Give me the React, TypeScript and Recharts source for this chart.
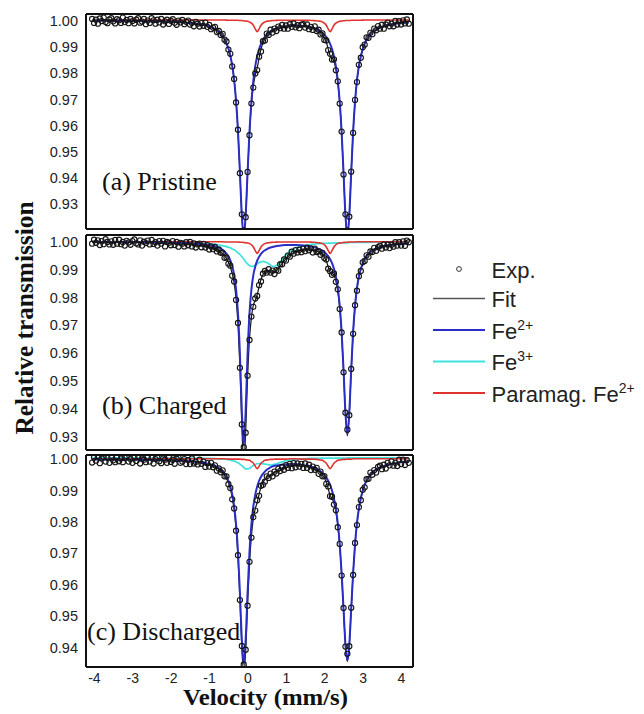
import React from 'react';
import { ComposedChart, Line, Scatter, XAxis, YAxis } from 'recharts';

// ---------- velocity channels of the measured spectra (mm/s) ----------
const VEL = [
  -4.06, -4.01, -3.96, -3.91, -3.86, -3.81, -3.76, -3.71, -3.66, -3.61,
  -3.56, -3.51, -3.46, -3.41, -3.36, -3.31, -3.26, -3.21, -3.16, -3.11,
  -3.06, -3.01, -2.96, -2.91, -2.86, -2.81, -2.76, -2.71, -2.66, -2.61,
  -2.56, -2.51, -2.46, -2.41, -2.36, -2.31, -2.26, -2.21, -2.16, -2.11,
  -2.06, -2.01, -1.96, -1.91, -1.86, -1.81, -1.76, -1.71, -1.66, -1.61,
  -1.56, -1.51, -1.46, -1.41, -1.36, -1.31, -1.26, -1.21, -1.16, -1.11,
  -1.06, -1.01, -0.96, -0.91, -0.86, -0.81, -0.76, -0.71, -0.66, -0.61,
  -0.56, -0.51, -0.46, -0.41, -0.36, -0.31, -0.26, -0.21, -0.16, -0.11,
  -0.06, -0.01, 0.04, 0.09, 0.14, 0.19, 0.24, 0.29, 0.34, 0.39,
  0.44, 0.49, 0.54, 0.59, 0.64, 0.69, 0.74, 0.79, 0.84, 0.89,
  0.94, 0.99, 1.04, 1.09, 1.14, 1.19, 1.24, 1.29, 1.34, 1.39,
  1.44, 1.49, 1.54, 1.59, 1.64, 1.69, 1.74, 1.79, 1.84, 1.89,
  1.94, 1.99, 2.04, 2.09, 2.14, 2.19, 2.24, 2.29, 2.34, 2.39,
  2.44, 2.49, 2.54, 2.59, 2.64, 2.69, 2.74, 2.79, 2.84, 2.89,
  2.94, 2.99, 3.04, 3.09, 3.14, 3.19, 3.24, 3.29, 3.34, 3.39,
  3.44, 3.49, 3.54, 3.59, 3.64, 3.69, 3.74, 3.79, 3.84, 3.89,
  3.94, 3.99, 4.04, 4.09, 4.14, 4.19,
];

// ---------- experimental points ----------
const EXP_A = [
  1.0007, 0.9992, 1.0004, 0.9989, 1.0009, 0.9999, 1.0012, 0.9995, 0.9991, 1.0005,
  1.0010, 0.9998, 0.9990, 1.0006, 1.0002, 0.9992, 1.0012, 0.9995, 1.0003, 0.9991,
  1.0007, 0.9999, 0.9990, 1.0004, 1.0010, 0.9993, 0.9997, 1.0007, 0.9987, 1.0001,
  0.9992, 1.0010, 1.0002, 0.9989, 1.0004, 0.9994, 1.0007, 0.9986, 0.9998, 1.0004,
  0.9988, 1.0000, 1.0006, 0.9993, 0.9985, 1.0001, 0.9994, 1.0003, 0.9987, 0.9996,
  1.0001, 0.9986, 0.9993, 0.9979, 0.9996, 0.9989, 0.9978, 0.9991, 0.9981, 0.9993,
  0.9977, 0.9984, 0.9968, 0.9974, 0.9977, 0.9957, 0.9961, 0.9946, 0.9950, 0.9928,
  0.9921, 0.9890, 0.9874, 0.9826, 0.9778, 0.9688, 0.9584, 0.9418, 0.9261, 0.9200,
  0.9250, 0.9423, 0.9563, 0.9684, 0.9745, 0.9799, 0.9812, 0.9863, 0.9883, 0.9922,
  0.9925, 0.9951, 0.9946, 0.9966, 0.9955, 0.9970, 0.9961, 0.9978, 0.9972, 0.9984,
  0.9970, 0.9982, 0.9970, 0.9987, 0.9977, 0.9990, 0.9975, 0.9983, 0.9972, 0.9985,
  0.9987, 0.9974, 0.9986, 0.9968, 0.9977, 0.9965, 0.9979, 0.9961, 0.9966, 0.9948,
  0.9952, 0.9927, 0.9925, 0.9888, 0.9874, 0.9852, 0.9853, 0.9811, 0.9769, 0.9684,
  0.9577, 0.9413, 0.9261, 0.9200, 0.9252, 0.9424, 0.9572, 0.9698, 0.9766, 0.9832,
  0.9859, 0.9899, 0.9909, 0.9937, 0.9935, 0.9954, 0.9949, 0.9970, 0.9964, 0.9980,
  0.9970, 0.9985, 0.9970, 0.9986, 0.9993, 0.9979, 0.9989, 0.9979, 1.0000, 0.9986,
  0.9999, 0.9986, 1.0002, 0.9990, 1.0005, 0.9989,
];

const EXP_B = [
  0.9993, 1.0007, 0.9996, 1.0005, 0.9988, 1.0002, 0.9991, 1.0009, 0.9999, 0.9990,
  1.0001, 0.9989, 1.0006, 0.9993, 1.0007, 0.9991, 0.9999, 0.9986, 1.0003, 0.9997,
  0.9989, 1.0002, 1.0008, 0.9994, 0.9990, 1.0005, 0.9986, 1.0000, 0.9995, 1.0004,
  0.9990, 1.0006, 0.9992, 0.9998, 0.9986, 1.0002, 0.9993, 1.0003, 0.9983, 0.9999,
  0.9996, 0.9987, 1.0002, 0.9988, 0.9999, 0.9982, 0.9996, 0.9993, 0.9983, 0.9998,
  0.9987, 0.9999, 0.9983, 0.9994, 0.9979, 0.9990, 0.9993, 0.9980, 0.9992, 0.9979,
  0.9988, 0.9972, 0.9983, 0.9973, 0.9981, 0.9965, 0.9972, 0.9960, 0.9960, 0.9942,
  0.9944, 0.9921, 0.9914, 0.9878, 0.9857, 0.9791, 0.9708, 0.9547, 0.9344, 0.9262,
  0.9314, 0.9519, 0.9647, 0.9731, 0.9766, 0.9796, 0.9805, 0.9844, 0.9857, 0.9885,
  0.9895, 0.9889, 0.9901, 0.9889, 0.9896, 0.9884, 0.9898, 0.9896, 0.9919, 0.9919,
  0.9936, 0.9932, 0.9950, 0.9946, 0.9964, 0.9957, 0.9970, 0.9961, 0.9971, 0.9962,
  0.9975, 0.9966, 0.9979, 0.9969, 0.9976, 0.9961, 0.9975, 0.9963, 0.9966, 0.9953,
  0.9960, 0.9941, 0.9936, 0.9903, 0.9894, 0.9881, 0.9886, 0.9856, 0.9829, 0.9758,
  0.9674, 0.9531, 0.9386, 0.9325, 0.9377, 0.9543, 0.9669, 0.9772, 0.9824, 0.9876,
  0.9895, 0.9926, 0.9931, 0.9951, 0.9946, 0.9965, 0.9963, 0.9978, 0.9967, 0.9980,
  0.9985, 0.9975, 0.9990, 0.9979, 0.9990, 0.9977, 0.9989, 0.9982, 0.9998, 0.9986,
  0.9998, 0.9986, 1.0001, 0.9985, 1.0004, 0.9998,
];

const EXP_C = [
  0.9989, 1.0005, 0.9995, 1.0008, 0.9987, 1.0002, 1.0007, 0.9992, 1.0004, 0.9988,
  1.0006, 0.9996, 0.9990, 1.0008, 0.9993, 1.0002, 0.9990, 1.0004, 1.0009, 0.9992,
  1.0000, 0.9988, 1.0006, 0.9994, 1.0007, 0.9986, 1.0002, 0.9998, 0.9990, 1.0007,
  0.9992, 1.0004, 0.9986, 1.0000, 1.0004, 0.9993, 0.9987, 1.0002, 0.9998, 0.9988,
  1.0005, 0.9991, 0.9998, 0.9985, 1.0001, 1.0005, 0.9988, 0.9992, 1.0000, 0.9984,
  0.9997, 0.9984, 1.0002, 0.9986, 0.9991, 0.9983, 0.9998, 0.9985, 0.9992, 0.9975,
  0.9987, 0.9976, 0.9988, 0.9974, 0.9980, 0.9963, 0.9970, 0.9958, 0.9964, 0.9945,
  0.9945, 0.9920, 0.9908, 0.9872, 0.9843, 0.9772, 0.9694, 0.9551, 0.9405, 0.9346,
  0.9393, 0.9533, 0.9673, 0.9750, 0.9815, 0.9836, 0.9869, 0.9883, 0.9915, 0.9918,
  0.9928, 0.9945, 0.9940, 0.9954, 0.9945, 0.9960, 0.9954, 0.9969, 0.9962, 0.9975,
  0.9966, 0.9981, 0.9972, 0.9985, 0.9971, 0.9987, 0.9974, 0.9986, 0.9976, 0.9985,
  0.9972, 0.9986, 0.9972, 0.9982, 0.9965, 0.9976, 0.9966, 0.9972, 0.9953, 0.9960,
  0.9945, 0.9946, 0.9921, 0.9913, 0.9882, 0.9880, 0.9855, 0.9837, 0.9783, 0.9730,
  0.9629, 0.9526, 0.9403, 0.9380, 0.9404, 0.9527, 0.9631, 0.9733, 0.9790, 0.9847,
  0.9869, 0.9902, 0.9910, 0.9936, 0.9937, 0.9957, 0.9950, 0.9965, 0.9957, 0.9975,
  0.9979, 0.9968, 0.9982, 0.9970, 0.9988, 0.9980, 0.9993, 0.9979, 0.9988, 0.9978,
  0.9998, 0.9984, 0.9998, 0.9981, 0.9997, 0.9988,
];

// ---------- fitted curves, sampled along LINE_X ----------
const LINE_X = [
  -4.06, -3.0, -2.2, -1.6, -1.31, -1.11, -0.96, -0.81, -0.71, -0.61,
  -0.51, -0.46, -0.41, -0.36, -0.31, -0.26, -0.21, -0.16, -0.11, -0.06,
  -0.01, 0.04, 0.09, 0.14, 0.19, 0.24, 0.29, 0.34, 0.39, 0.44,
  0.49, 0.54, 0.59, 0.64, 0.69, 0.79, 0.89, 0.99, 1.09, 1.24,
  1.39, 1.49, 1.59, 1.69, 1.79, 1.84, 1.89, 1.94, 1.99, 2.04,
  2.09, 2.14, 2.19, 2.24, 2.29, 2.34, 2.39, 2.44, 2.49, 2.54,
  2.59, 2.64, 2.69, 2.74, 2.79, 2.84, 2.89, 2.94, 3.04, 3.14,
  3.29, 3.49, 3.79, 4.19,
];

const FIT_A = [
  1.0001, 1.0000, 0.9998, 0.9993, 0.9988, 0.9983, 0.9976, 0.9964, 0.9951, 0.9930,
  0.9894, 0.9866, 0.9828, 0.9773, 0.9693, 0.9578, 0.9420, 0.9256, 0.9177, 0.9253,
  0.9416, 0.9569, 0.9680, 0.9752, 0.9793, 0.9820, 0.9858, 0.9892, 0.9915, 0.9931,
  0.9942, 0.9950, 0.9957, 0.9962, 0.9966, 0.9972, 0.9976, 0.9978, 0.9980, 0.9981,
  0.9980, 0.9978, 0.9975, 0.9971, 0.9965, 0.9960, 0.9955, 0.9946, 0.9935, 0.9919,
  0.9893, 0.9867, 0.9858, 0.9845, 0.9815, 0.9764, 0.9690, 0.9573, 0.9418, 0.9255,
  0.9178, 0.9256, 0.9421, 0.9576, 0.9691, 0.9772, 0.9826, 0.9864, 0.9912, 0.9940,
  0.9962, 0.9976, 0.9987, 0.9993,
];
const FE2_A = [
  1.0001, 1.0000, 0.9998, 0.9993, 0.9988, 0.9983, 0.9976, 0.9964, 0.9951, 0.9930,
  0.9895, 0.9867, 0.9829, 0.9774, 0.9694, 0.9579, 0.9422, 0.9258, 0.9180, 0.9257,
  0.9421, 0.9577, 0.9692, 0.9772, 0.9827, 0.9865, 0.9892, 0.9912, 0.9927, 0.9939,
  0.9947, 0.9954, 0.9960, 0.9964, 0.9968, 0.9973, 0.9977, 0.9979, 0.9981, 0.9982,
  0.9981, 0.9979, 0.9977, 0.9973, 0.9968, 0.9964, 0.9960, 0.9954, 0.9947, 0.9939,
  0.9927, 0.9912, 0.9892, 0.9865, 0.9827, 0.9772, 0.9692, 0.9577, 0.9421, 0.9257,
  0.9180, 0.9257, 0.9421, 0.9577, 0.9692, 0.9772, 0.9827, 0.9865, 0.9913, 0.9941,
  0.9963, 0.9977, 0.9988, 0.9994,
];
const PARA_A = [
  1.0003, 1.0003, 1.0003, 1.0003, 1.0003, 1.0003, 1.0003, 1.0003, 1.0003, 1.0003,
  1.0002, 1.0002, 1.0002, 1.0002, 1.0002, 1.0002, 1.0001, 1.0001, 1.0000, 0.9999,
  0.9998, 0.9995, 0.9991, 0.9983, 0.9969, 0.9958, 0.9969, 0.9983, 0.9991, 0.9995,
  0.9998, 0.9999, 1.0000, 1.0001, 1.0001, 1.0002, 1.0002, 1.0002, 1.0002, 1.0002,
  1.0002, 1.0002, 1.0002, 1.0001, 1.0000, 0.9999, 0.9998, 0.9995, 0.9991, 0.9983,
  0.9969, 0.9958, 0.9969, 0.9983, 0.9991, 0.9995, 0.9998, 0.9999, 1.0000, 1.0001,
  1.0001, 1.0001, 1.0002, 1.0002, 1.0002, 1.0002, 1.0002, 1.0002, 1.0003, 1.0003,
  1.0003, 1.0003, 1.0003, 1.0003,
];

const FIT_B = [
  0.9998, 0.9997, 0.9995, 0.9991, 0.9988, 0.9983, 0.9979, 0.9971, 0.9962, 0.9949,
  0.9927, 0.9910, 0.9885, 0.9851, 0.9794, 0.9703, 0.9551, 0.9338, 0.9202, 0.9318,
  0.9513, 0.9652, 0.9728, 0.9772, 0.9789, 0.9809, 0.9839, 0.9864, 0.9881, 0.9889,
  0.9894, 0.9894, 0.9893, 0.9891, 0.9892, 0.9902, 0.9922, 0.9939, 0.9952, 0.9964,
  0.9970, 0.9972, 0.9972, 0.9970, 0.9967, 0.9963, 0.9960, 0.9954, 0.9945, 0.9931,
  0.9910, 0.9890, 0.9886, 0.9880, 0.9859, 0.9822, 0.9763, 0.9670, 0.9537, 0.9381,
  0.9303, 0.9382, 0.9537, 0.9673, 0.9767, 0.9830, 0.9872, 0.9900, 0.9935, 0.9954,
  0.9970, 0.9980, 0.9988, 0.9992,
];
const FE2_B = [
  0.9999, 0.9999, 0.9997, 0.9995, 0.9993, 0.9990, 0.9987, 0.9981, 0.9975, 0.9965,
  0.9947, 0.9933, 0.9912, 0.9881, 0.9829, 0.9744, 0.9599, 0.9394, 0.9268, 0.9393,
  0.9598, 0.9743, 0.9828, 0.9880, 0.9911, 0.9932, 0.9946, 0.9956, 0.9964, 0.9969,
  0.9973, 0.9977, 0.9979, 0.9981, 0.9983, 0.9985, 0.9987, 0.9988, 0.9988, 0.9988,
  0.9987, 0.9985, 0.9984, 0.9981, 0.9977, 0.9974, 0.9971, 0.9967, 0.9962, 0.9956,
  0.9948, 0.9937, 0.9923, 0.9903, 0.9875, 0.9834, 0.9771, 0.9677, 0.9541, 0.9386,
  0.9308, 0.9386, 0.9541, 0.9677, 0.9771, 0.9834, 0.9875, 0.9903, 0.9938, 0.9957,
  0.9972, 0.9983, 0.9990, 0.9994,
];
const FE3_B = [
  0.9999, 0.9999, 0.9998, 0.9996, 0.9995, 0.9993, 0.9992, 0.9990, 0.9987, 0.9984,
  0.9980, 0.9978, 0.9974, 0.9971, 0.9966, 0.9960, 0.9954, 0.9946, 0.9938, 0.9928,
  0.9920, 0.9914, 0.9911, 0.9912, 0.9915, 0.9920, 0.9925, 0.9927, 0.9929, 0.9927,
  0.9925, 0.9921, 0.9916, 0.9912, 0.9911, 0.9919, 0.9936, 0.9953, 0.9965, 0.9977,
  0.9984, 0.9987, 0.9989, 0.9991, 0.9992, 0.9993, 0.9993, 0.9994, 0.9994, 0.9994,
  0.9995, 0.9995, 0.9995, 0.9995, 0.9996, 0.9996, 0.9996, 0.9996, 0.9996, 0.9996,
  0.9996, 0.9997, 0.9997, 0.9997, 0.9997, 0.9997, 0.9997, 0.9997, 0.9997, 0.9997,
  0.9998, 0.9998, 0.9998, 0.9999,
];
const PARA_B = [
  1.0000, 1.0000, 1.0000, 1.0000, 1.0000, 1.0000, 1.0000, 1.0000, 1.0000, 0.9999,
  0.9999, 0.9999, 0.9999, 0.9999, 0.9999, 0.9999, 0.9998, 0.9998, 0.9997, 0.9996,
  0.9995, 0.9993, 0.9989, 0.9981, 0.9968, 0.9958, 0.9968, 0.9981, 0.9989, 0.9993,
  0.9995, 0.9996, 0.9997, 0.9998, 0.9998, 0.9999, 0.9999, 0.9999, 0.9999, 0.9999,
  0.9999, 0.9999, 0.9999, 0.9998, 0.9997, 0.9996, 0.9995, 0.9993, 0.9989, 0.9981,
  0.9968, 0.9958, 0.9968, 0.9981, 0.9989, 0.9993, 0.9995, 0.9996, 0.9997, 0.9998,
  0.9998, 0.9999, 0.9999, 0.9999, 0.9999, 1.0000, 1.0000, 1.0000, 1.0000, 1.0000,
  1.0000, 1.0000, 1.0000, 1.0000,
];

const FIT_C = [
  0.9999, 0.9998, 0.9996, 0.9993, 0.9990, 0.9985, 0.9980, 0.9972, 0.9963, 0.9949,
  0.9925, 0.9905, 0.9878, 0.9839, 0.9779, 0.9689, 0.9555, 0.9399, 0.9316, 0.9388,
  0.9537, 0.9667, 0.9755, 0.9811, 0.9842, 0.9862, 0.9888, 0.9911, 0.9926, 0.9935,
  0.9941, 0.9946, 0.9949, 0.9953, 0.9957, 0.9962, 0.9969, 0.9973, 0.9976, 0.9978,
  0.9978, 0.9977, 0.9975, 0.9971, 0.9966, 0.9962, 0.9956, 0.9949, 0.9940, 0.9926,
  0.9906, 0.9885, 0.9874, 0.9860, 0.9833, 0.9789, 0.9725, 0.9634, 0.9520, 0.9407,
  0.9356, 0.9407, 0.9522, 0.9637, 0.9729, 0.9795, 0.9841, 0.9875, 0.9917, 0.9941,
  0.9962, 0.9976, 0.9986, 0.9992,
];
const FE2_C = [
  0.9999, 0.9998, 0.9997, 0.9994, 0.9991, 0.9987, 0.9983, 0.9975, 0.9967, 0.9954,
  0.9931, 0.9913, 0.9888, 0.9850, 0.9792, 0.9705, 0.9576, 0.9425, 0.9348, 0.9425,
  0.9576, 0.9705, 0.9792, 0.9850, 0.9887, 0.9913, 0.9931, 0.9944, 0.9953, 0.9960,
  0.9966, 0.9970, 0.9974, 0.9977, 0.9979, 0.9980, 0.9982, 0.9983, 0.9984, 0.9984,
  0.9982, 0.9980, 0.9978, 0.9974, 0.9969, 0.9966, 0.9961, 0.9956, 0.9950, 0.9941,
  0.9931, 0.9918, 0.9900, 0.9875, 0.9842, 0.9796, 0.9730, 0.9638, 0.9523, 0.9409,
  0.9358, 0.9409, 0.9523, 0.9638, 0.9730, 0.9796, 0.9842, 0.9876, 0.9918, 0.9942,
  0.9963, 0.9976, 0.9986, 0.9992,
];
const FE3_C = [
  1.0004, 1.0004, 1.0003, 1.0003, 1.0003, 1.0002, 1.0002, 1.0001, 1.0000, 1.0000,
  0.9998, 0.9997, 0.9995, 0.9994, 0.9991, 0.9988, 0.9984, 0.9979, 0.9974, 0.9969,
  0.9969, 0.9971, 0.9975, 0.9980, 0.9983, 0.9985, 0.9986, 0.9986, 0.9985, 0.9984,
  0.9983, 0.9982, 0.9981, 0.9982, 0.9983, 0.9987, 0.9991, 0.9995, 0.9997, 0.9999,
  1.0001, 1.0001, 1.0002, 1.0002, 1.0002, 1.0002, 1.0003, 1.0003, 1.0003, 1.0003,
  1.0003, 1.0003, 1.0003, 1.0003, 1.0003, 1.0003, 1.0003, 1.0003, 1.0003, 1.0003,
  1.0004, 1.0004, 1.0004, 1.0004, 1.0004, 1.0004, 1.0004, 1.0004, 1.0004, 1.0004,
  1.0004, 1.0004, 1.0004, 1.0004,
];
const PARA_C = [
  1.0001, 1.0001, 1.0001, 1.0001, 1.0001, 1.0001, 1.0001, 1.0001, 1.0001, 1.0001,
  1.0000, 1.0000, 1.0000, 1.0000, 1.0000, 1.0000, 1.0000, 0.9999, 0.9999, 0.9998,
  0.9997, 0.9996, 0.9992, 0.9987, 0.9977, 0.9969, 0.9977, 0.9987, 0.9992, 0.9996,
  0.9997, 0.9998, 0.9999, 0.9999, 1.0000, 1.0000, 1.0000, 1.0000, 1.0001, 1.0001,
  1.0000, 1.0000, 1.0000, 1.0000, 0.9999, 0.9998, 0.9997, 0.9996, 0.9992, 0.9987,
  0.9977, 0.9969, 0.9977, 0.9987, 0.9992, 0.9996, 0.9997, 0.9998, 0.9999, 0.9999,
  1.0000, 1.0000, 1.0000, 1.0001, 1.0001, 1.0001, 1.0001, 1.0001, 1.0001, 1.0001,
  1.0001, 1.0001, 1.0001, 1.0001,
];

// ---------- axes ----------
const X_TICKS = [-4, -3, -2, -1, 0, 1, 2, 3, 4];
const Y_TICKS_AB = [0.93, 0.94, 0.95, 0.96, 0.97, 0.98, 0.99, 1.0];
const Y_TICKS_C = [0.94, 0.95, 0.96, 0.97, 0.98, 0.99, 1.0];
const X_DOMAIN: [number, number] = [-4.22, 4.3];
const DOMAIN_A: [number, number] = [0.9205, 1.0026];
const DOMAIN_B: [number, number] = [0.9252, 1.0024];
const DOMAIN_C: [number, number] = [0.9338, 1.0013];

const COLORS = {
  fit: '#151515',
  fe2: '#2b2ec6',
  fe3: '#3fe0e0',
  para: '#e0322e',
  exp: '#151515',
  frame: '#111111',
  text: '#222222',
};

const SANS = "'Liberation Sans', Arial, sans-serif";
const SERIF = "'Liberation Serif', 'Times New Roman', serif";

const toPts = (xs: number[], ys: number[]) => xs.map((x, i) => ({ x, y: ys[i] }));

const minorTicks = (lo: number, hi: number) => {
  const out: number[] = [];
  for (let v = Math.ceil(lo * 1000); v <= Math.floor(hi * 1000); v++) out.push(v / 1000);
  return out;
};

const ExpDot = (props: any) => {
  const { cx, cy } = props;
  if (cx == null || cy == null || isNaN(cx) || isNaN(cy)) return <g />;
  return <circle cx={cx} cy={cy} r={2.6} fill="none" stroke={COLORS.exp} strokeWidth={1.1} />;
};

interface PanelProps {
  top: number;
  plotHeight: number;
  domain: [number, number];
  yTicks: number[];
  exp: number[];
  fit: number[];
  fe2: number[];
  fe3?: number[];
  para: number[];
  showX: boolean;
}

function Panel({ top, plotHeight, domain, yTicks, exp, fit, fe2, fe3, para, showX }: PanelProps) {
  const minor = minorTicks(domain[0], domain[1]);
  const mTop = 10;
  const mBottom = showX ? 2 : 10;
  const xLabelH = showX ? 24 : 0;
  const height = mTop + plotHeight + mBottom + xLabelH;
  const frameLine = { stroke: COLORS.frame, strokeWidth: 2 };
  const tickLine = { stroke: COLORS.frame, strokeWidth: 1.2 };
  const common = { type: 'number' as const, allowDataOverflow: true, interval: 0 as const };
  return (
    <div style={{ position: 'absolute', left: 0, top: top - mTop }}>
      <ComposedChart width={420} height={height} margin={{ top: mTop, right: 7, bottom: mBottom, left: 0 }}>
        <XAxis {...common} xAxisId="xb" dataKey="x" domain={X_DOMAIN} ticks={X_TICKS} orientation="bottom" mirror tick={false} tickSize={5} tickLine={tickLine} axisLine={frameLine} />
        <XAxis {...common} xAxisId="xt" dataKey="x" domain={X_DOMAIN} ticks={X_TICKS} orientation="top" mirror tick={false} tickSize={5} tickLine={tickLine} axisLine={frameLine} />
        {showX && (
          <XAxis {...common} xAxisId="xl" dataKey="x" domain={X_DOMAIN} ticks={X_TICKS} orientation="bottom" height={xLabelH} tickSize={0} tickMargin={6} axisLine={false} tickLine={false}
            tick={{ fontSize: 14, fill: COLORS.text, fontFamily: SANS }} tickFormatter={(v: number) => String(v)} />
        )}
        <YAxis {...common} yAxisId="yl" dataKey="y" domain={domain} ticks={yTicks} width={86} tickSize={0} tickMargin={8} axisLine={false} tickLine={false}
          tick={{ fontSize: 14.5, fill: COLORS.text, fontFamily: SANS }} tickFormatter={(v: number) => v.toFixed(2)} />
        <YAxis {...common} yAxisId="ylm" domain={domain} ticks={yTicks} orientation="left" mirror tick={false} tickSize={5} tickLine={tickLine} axisLine={frameLine} />
        <YAxis {...common} yAxisId="ylmin" domain={domain} ticks={minor} orientation="left" mirror tick={false} tickSize={2.5} tickLine={{ stroke: COLORS.frame, strokeWidth: 1 }} axisLine={false} />
        <YAxis {...common} yAxisId="yrm" domain={domain} ticks={yTicks} orientation="right" mirror tick={false} tickSize={5} tickLine={tickLine} axisLine={frameLine} />
        <YAxis {...common} yAxisId="yrmin" domain={domain} ticks={minor} orientation="right" mirror tick={false} tickSize={2.5} tickLine={{ stroke: COLORS.frame, strokeWidth: 1 }} axisLine={false} />

        <Line xAxisId="xb" yAxisId="yl" data={toPts(LINE_X, fit)} dataKey="y" type="monotone" stroke={COLORS.fit} strokeWidth={1.2} dot={false} isAnimationActive={false} />
        {fe3 && (
          <Line xAxisId="xb" yAxisId="yl" data={toPts(LINE_X, fe3)} dataKey="y" type="monotone" stroke={COLORS.fe3} strokeWidth={1.7} dot={false} isAnimationActive={false} />
        )}
        <Line xAxisId="xb" yAxisId="yl" data={toPts(LINE_X, para)} dataKey="y" type="monotone" stroke={COLORS.para} strokeWidth={1.6} dot={false} isAnimationActive={false} />
        <Line xAxisId="xb" yAxisId="yl" data={toPts(LINE_X, fe2)} dataKey="y" type="monotone" stroke={COLORS.fe2} strokeWidth={2} dot={false} isAnimationActive={false} />
        <Scatter xAxisId="xb" yAxisId="yl" data={toPts(VEL, exp)} dataKey="y" shape={ExpDot} isAnimationActive={false} />
      </ComposedChart>
    </div>
  );
}

const LEGEND_ROWS = [
  { key: 'exp', label: 'Exp.', sup: '', y: 269 },
  { key: 'fit', label: 'Fit', sup: '', y: 298.5 },
  { key: 'fe2', label: 'Fe', sup: '2+', y: 330 },
  { key: 'fe3', label: 'Fe', sup: '3+', y: 361.5 },
  { key: 'para', label: 'Paramag. Fe', sup: '2+', y: 393 },
];

function Overlay() {
  return (
    <svg width={644} height={714} style={{ position: 'absolute', left: 0, top: 0, pointerEvents: 'none', overflow: 'visible' }}>
      <text x={102} y={190} fontFamily={SERIF} fontSize={26} fill="#111">(a) Pristine</text>
      <text x={102} y={414} fontFamily={SERIF} fontSize={26} fill="#111">(b) Charged</text>
      <text x={87} y={640} fontFamily={SERIF} fontSize={26} fill="#111">(c) Discharged</text>

      <text transform="translate(33,318) rotate(-90)" textAnchor="middle" fontFamily={SERIF} fontWeight="bold" fontSize={26}
        fill="#111" textLength={233} lengthAdjust="spacingAndGlyphs">Relative transmission</text>
      <text x={265.5} y={705} textAnchor="middle" fontFamily={SERIF} fontWeight="bold" fontSize={23} fill="#111"
        textLength={165} lengthAdjust="spacingAndGlyphs">Velocity (mm/s)</text>

      {LEGEND_ROWS.map((r) => (
        <g key={r.key}>
          {r.key === 'exp' ? (
            <circle cx={459} cy={r.y} r={2.4} fill="none" stroke="#333" strokeWidth={1} />
          ) : (
            <line x1={433} x2={485} y1={r.y} y2={r.y}
              stroke={r.key === 'fit' ? '#555' : (COLORS as any)[r.key]} strokeWidth={r.key === 'fit' ? 1.5 : 2} />
          )}
          <text x={491.5} y={r.y + 8.5} fontFamily={SANS} fontSize={22} fill={COLORS.text}>
            {r.label}
            {r.sup && <tspan dy={-9} fontSize={14}>{r.sup}</tspan>}
          </text>
        </g>
      ))}
    </svg>
  );
}

export default function App() {
  return (
    <div style={{ position: 'fixed', left: 0, top: 0, width: 644, height: 714, background: '#fff', overflow: 'hidden' }}>
      <Panel top={14} plotHeight={215} domain={DOMAIN_A} yTicks={Y_TICKS_AB} exp={EXP_A} fit={FIT_A} fe2={FE2_A} para={PARA_A} showX={false} />
      <Panel top={235} plotHeight={215} domain={DOMAIN_B} yTicks={Y_TICKS_AB} exp={EXP_B} fit={FIT_B} fe2={FE2_B} fe3={FE3_B} para={PARA_B} showX={false} />
      <Panel top={455} plotHeight={212} domain={DOMAIN_C} yTicks={Y_TICKS_C} exp={EXP_C} fit={FIT_C} fe2={FE2_C} fe3={FE3_C} para={PARA_C} showX={true} />
      <Overlay />
    </div>
  );
}
